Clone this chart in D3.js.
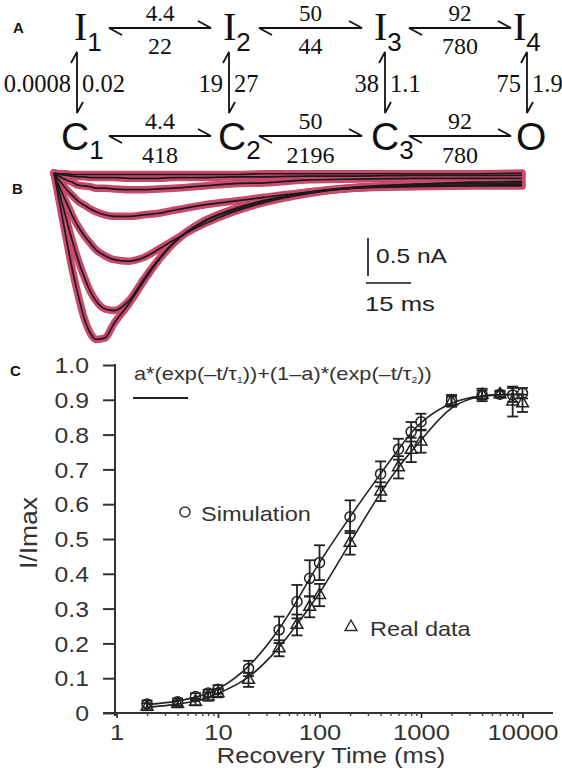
<!DOCTYPE html>
<html><head><meta charset="utf-8">
<script src="https://cdn.jsdelivr.net/npm/d3@7"></script>
<style>body{margin:0;background:#fff} svg{display:block}</style>
</head><body><svg id="fig" width="562" height="770"></svg>
<script>
// ---------- Panel A data (kinetic scheme) ----------
const topStates = ["I","I","I","I"];
const topSubs = ["1","2","3","4"];
const bottomStates = ["C","C","C","O"];
const bottomSubs = ["1","2","3",""];
const topForward = ["4.4","50","92"];
const topBackward = ["22","44","780"];
const bottomForward = ["4.4","50","92"];
const bottomBackward = ["418","2196","780"];
const vertLeft = ["0.0008","19","38","75"];
const vertRight = ["0.02","27","1.1","1.9"];

// ---------- Panel B data (current traces, ms / nA) ----------
const traceTime = [0,2,4,6,8,10,12,14,17,20,25,30,35,40,50,60,70,85,100,120,140,156];
const traceA = [0,-0.42,-0.84,-1.25,-1.60,-1.90,-2.10,-2.19,-2.17,-1.98,-1.72,-1.42,-1.14,-0.92,-0.64,-0.49,-0.37,-0.26,-0.20,-0.18,-0.17,-0.17];
const traceB = [0,-0.29,-0.59,-0.88,-1.14,-1.36,-1.55,-1.68,-1.79,-1.81,-1.68,-1.39,-1.13,-0.91,-0.63,-0.47,-0.36,-0.25,-0.19,-0.17,-0.16,-0.15];
const traceC = [0,-0.20,-0.38,-0.55,-0.70,-0.82,-0.92,-1.01,-1.09,-1.14,-1.16,-1.11,-1.00,-0.88,-0.67,-0.51,-0.39,-0.27,-0.19,-0.15,-0.14,-0.13];
const traceD = [0,-0.11,-0.21,-0.29,-0.37,-0.42,-0.47,-0.51,-0.55,-0.57,-0.57,-0.55,-0.53,-0.49,-0.42,-0.37,-0.32,-0.25,-0.20,-0.15,-0.12,-0.11];
const traceE = [0,-0.05,-0.09,-0.12,-0.16,-0.17,-0.18,-0.20,-0.20,-0.21,-0.22,-0.22,-0.21,-0.20,-0.17,-0.14,-0.13,-0.09,-0.08,-0.07,-0.07,-0.07];
const traceF = [0,-0.02,-0.03,-0.04,-0.05,-0.05,-0.06,-0.06,-0.06,-0.06,-0.07,-0.07,-0.07,-0.06,-0.06,-0.05,-0.05,-0.04,-0.04,-0.03,-0.03,-0.03];
const traceG = [0,-0.01,-0.01,-0.02,-0.02,-0.02,-0.02,-0.02,-0.02,-0.02,-0.02,-0.02,-0.02,-0.02,-0.02,-0.02,-0.01,-0.01,-0.01,-0.01,-0.01,0];
const scaleBarTime = 15;     // ms
const scaleBarCurrent = 0.5; // nA

// ---------- Panel C data (recovery from inactivation) ----------
const recoveryTime = [2,4,6,8,10,20,40,60,80,100,200,400,600,800,1000,2000,4000,6000,8000,10000];
const simMean = [0.026,0.032,0.047,0.057,0.068,0.128,0.239,0.320,0.387,0.432,0.564,0.687,0.758,0.808,0.837,0.899,0.914,0.916,0.914,0.919];
const simErr  = [0.010,0.010,0.010,0.010,0.012,0.022,0.038,0.048,0.052,0.050,0.047,0.036,0.030,0.028,0.023,0.015,0.018,0.010,0.020,0.015];
const realMean = [0.018,0.026,0.032,0.047,0.057,0.095,0.186,0.253,0.305,0.339,0.489,0.636,0.706,0.756,0.780,0.895,0.914,0.916,0.895,0.890];
const realErr  = [0.010,0.010,0.010,0.012,0.012,0.020,0.023,0.030,0.030,0.032,0.034,0.027,0.032,0.035,0.032,0.015,0.013,0.008,0.043,0.025];
const simFit  = [0.024,0.033,0.045,0.056,0.066,0.126,0.238,0.322,0.386,0.434,0.565,0.688,0.758,0.806,0.838,0.897,0.913,0.915,0.916,0.916];
const realFit = [0.016,0.025,0.033,0.045,0.056,0.095,0.186,0.254,0.305,0.342,0.489,0.636,0.707,0.752,0.783,0.890,0.912,0.914,0.915,0.915];
const yTicks = [0,0.1,0.2,0.3,0.4,0.5,0.6,0.7,0.8,0.9,1.0];
const xMajor = [1,10,100,1000,10000];

// ---------- helpers ----------
const SANS = "'Liberation Sans', Arial, Helvetica, sans-serif";
const SERIF = "'Liberation Serif', 'Times New Roman', serif";
const INK = "#222";
function stretch(sel, f){
  sel.each(function(){
    const w = this.getComputedTextLength();
    this.setAttribute("textLength", (w*f).toFixed(1));
    this.setAttribute("lengthAdjust","spacingAndGlyphs");
  });
}
const svg = d3.select("#fig");

// panel letters
[["A",13,33],["B",12,194],["C",10,376]].forEach(([t,x,y])=>{
  svg.append("text").attr("x",x).attr("y",y).text(t)
    .attr("font-family",SANS).attr("font-weight","bold").attr("font-size",15).attr("fill","#111");
});

// ================= Panel A =================
const gA = svg.append("g");
const colX = [77,229,385,527];
const iStart = [74,223,374,513];
const cStart = [61,218,371,516];
const rowTop = 28, rowBot = 136, vTop = 52, vBot = 113;
const arrowSpan = [[109,211],[259,362],[409,511]];

topStates.forEach((s,i)=>{
  const t = gA.append("text").attr("x",iStart[i]).attr("y",39.5)
    .attr("font-family",SERIF).attr("font-size",40).attr("fill","#111").text(s);
  t.append("tspan").attr("dy",11).attr("font-family",SANS).attr("font-size",26).text(topSubs[i]);
});
bottomStates.forEach((s,i)=>{
  const t = gA.append("text").attr("x",cStart[i]).attr("y",149.5)
    .attr("font-family",SANS).attr("font-size",39).attr("fill","#111").text(s);
  if(bottomSubs[i]) t.append("tspan").attr("dy",9).attr("font-size",26).text(bottomSubs[i]);
});
function hArrow(x1,x2,y){
  gA.append("path").attr("d",`M${x1+13},${y+7}L${x1},${y}L${x2},${y}L${x2-13},${y-7}`)
    .attr("fill","none").attr("stroke","#111").attr("stroke-width",1.8);
}
function vArrow(x,y1,y2){
  gA.append("path").attr("d",`M${x-6},${y1+11}L${x},${y1}L${x},${y2}L${x+6},${y2-11}`)
    .attr("fill","none").attr("stroke","#111").attr("stroke-width",1.8);
}
arrowSpan.forEach(([a,b],i)=>{
  hArrow(a,b,rowTop); hArrow(a,b,rowBot);
  const cx=(a+b)/2;
  const lab=(txt,y,fs)=>gA.append("text").attr("x",cx).attr("y",y).attr("text-anchor","middle")
    .attr("font-family",SERIF).attr("font-size",fs).attr("fill","#111").text(txt);
  lab(topForward[i],21,23); lab(topBackward[i],54,24);
  lab(bottomForward[i],129,24); lab(bottomBackward[i],163,24);
});
colX.forEach((x,i)=>{
  vArrow(x,vTop,vBot);
  gA.append("text").attr("x",x-6).attr("y",91.5).attr("text-anchor","end")
    .attr("font-family",SERIF).attr("font-size",24.5).attr("fill","#111").text(vertLeft[i]);
  gA.append("text").attr("x",x+5).attr("y",91.5)
    .attr("font-family",SERIF).attr("font-size",24.5).attr("fill","#111").text(vertRight[i]);
});

// ================= Panel B =================
const gB = svg.append("g");
const xB = d3.scaleLinear().domain([0,156]).range([54,522]);
const yB = d3.scaleLinear().domain([0,-2.5]).range([173,363]);
const traces = [traceA,traceB,traceC,traceD,traceE,traceF,traceG];
const lineB = d3.line().x((d,i)=>xB(traceTime[i])).y(d=>yB(d)).curve(d3.curveMonotoneX);
traces.forEach(tr=>{
  gB.append("path").attr("d",lineB(tr)).attr("fill","none")
    .attr("stroke","#c94a6d").attr("stroke-width",7.5).attr("stroke-linejoin","round").attr("stroke-linecap","round");
});
traces.forEach(tr=>{
  gB.append("path").attr("d",lineB(tr)).attr("fill","none")
    .attr("stroke","#1a1a1a").attr("stroke-width",1.7).attr("stroke-linejoin","round");
});
// scale bars
const sbX = 368, sbTop = 238, sbY = 283;
const vLen = yB(-scaleBarCurrent)-yB(0);
const hLen = xB(scaleBarTime)-xB(0);
gB.append("line").attr("x1",sbX).attr("x2",sbX).attr("y1",sbTop).attr("y2",sbTop+vLen)
  .attr("stroke","#111").attr("stroke-width",1.6);
gB.append("line").attr("x1",sbX-2).attr("x2",sbX-2+hLen).attr("y1",sbY).attr("y2",sbY)
  .attr("stroke","#111").attr("stroke-width",1.6);
stretch(gB.append("text").attr("x",376).attr("y",263).attr("font-family",SANS).attr("font-size",21)
  .attr("fill","#222").text(scaleBarCurrent+" nA"),1.17);
stretch(gB.append("text").attr("x",365).attr("y",311).attr("font-family",SANS).attr("font-size",21)
  .attr("fill","#222").text(scaleBarTime+" ms"),1.22);

// ================= Panel C =================
const gC = svg.append("g");
const xC = d3.scaleLog().domain([1,10000]).range([116.5,522.5]);
const yC = d3.scaleLinear().domain([0,1]).range([713,365]);

// axes lines
gC.append("line").attr("x1",103).attr("x2",553).attr("y1",713).attr("y2",713).attr("stroke","#333").attr("stroke-width",2);
gC.append("line").attr("x1",115).attr("x2",115).attr("y1",364).attr("y2",716).attr("stroke","#333").attr("stroke-width",2);

// y axis ticks + labels
const yAx = gC.append("g").attr("transform","translate(115,0)")
  .call(d3.axisLeft(yC).tickValues(yTicks).tickSize(12).tickPadding(14)
    .tickFormat(d=>d===0?"0":d3.format(".1f")(d)));
yAx.select(".domain").remove();
yAx.selectAll("line").attr("stroke","#333").attr("stroke-width",2);
yAx.selectAll("text").attr("font-family",SANS).attr("font-size",21.5).attr("fill","#333").attr("dy","0.36em");
stretch(yAx.selectAll("text"),1.15);

// x axis ticks
const minorTicks = [];
xMajor.slice(0,-1).forEach(m=>{ for(let k=2;k<=9;k++) minorTicks.push(m*k); });
const xMin = gC.append("g").attr("transform","translate(0,713)")
  .call(d3.axisBottom(xC).tickValues(minorTicks).tickSize(3).tickFormat(""));
xMin.select(".domain").remove();
xMin.selectAll("line").attr("stroke","#444").attr("stroke-width",1.4);
const xAx = gC.append("g").attr("transform","translate(0,713)")
  .call(d3.axisBottom(xC).tickValues(xMajor).tickSize(5).tickPadding(6).tickFormat(d3.format("d")));
xAx.select(".domain").remove();
xAx.selectAll("line").attr("stroke","#333").attr("stroke-width",1.8);
xAx.selectAll("text").attr("font-family",SANS).attr("font-size",22).attr("fill","#333");
stretch(xAx.selectAll("text"),1.16);

// axis titles
stretch(gC.append("text").attr("x",331).attr("y",763).attr("text-anchor","middle")
  .attr("font-family",SANS).attr("font-size",22).attr("fill","#333").text("Recovery Time (ms)"),1.16);
stretch(gC.append("text").attr("transform","translate(37,533) rotate(-90)").attr("text-anchor","middle")
  .attr("font-family",SANS).attr("font-size",23).attr("fill","#333").text("I/Imax"),1.15);

// fit curves
const fitLine = d3.line().x((d,i)=>xC(recoveryTime[i])).y(d=>yC(d)).curve(d3.curveBasis);
[simFit,realFit].forEach(f=>{
  gC.append("path").attr("d",fitLine(f)).attr("fill","none").attr("stroke",INK).attr("stroke-width",1.6);
});

// error bars + markers
function series(mean, err, shape){
  const g = gC.append("g");
  recoveryTime.forEach((t,i)=>{
    const x = xC(t), y0 = yC(mean[i]-err[i]), y1 = yC(mean[i]+err[i]);
    g.append("line").attr("x1",x).attr("x2",x).attr("y1",y0).attr("y2",y1).attr("stroke",INK).attr("stroke-width",1.8);
    [y0,y1].forEach(yy=>g.append("line").attr("x1",x-5.5).attr("x2",x+5.5).attr("y1",yy).attr("y2",yy).attr("stroke",INK).attr("stroke-width",1.8));
    g.append("path").attr("transform",`translate(${x},${yC(mean[i])})`)
      .attr("d",d3.symbol(shape, shape===d3.symbolCircle?80:60)())
      .attr("fill","none").attr("stroke",INK).attr("stroke-width",1.5);
  });
}
series(realMean, realErr, d3.symbolTriangle);
series(simMean, simErr, d3.symbolCircle);

// legends
gC.append("path").attr("transform","translate(185,512)").attr("d",d3.symbol(d3.symbolCircle,80)())
  .attr("fill","none").attr("stroke","#333").attr("stroke-width",1.5);
stretch(gC.append("text").attr("x",201).attr("y",521).attr("font-family",SANS).attr("font-size",21)
  .attr("fill","#333").text("Simulation"),1.12);
gC.append("path").attr("transform","translate(351,627)").attr("d",d3.symbol(d3.symbolTriangle,60)())
  .attr("fill","none").attr("stroke","#333").attr("stroke-width",1.5);
stretch(gC.append("text").attr("x",370).attr("y",636).attr("font-family",SANS).attr("font-size",21)
  .attr("fill","#333").text("Real data"),1.12);

// formula legend
const ft = gC.append("text").attr("x",134).attr("y",380).attr("font-family",SANS).attr("font-size",19).attr("fill","#333");
ft.append("tspan").text("a*(exp(\u2013t/\u03c4");
ft.append("tspan").attr("font-size",9).attr("dy",3).text("1");
ft.append("tspan").attr("dy",-3).text("))+(1\u2013a)*(exp(\u2013t/\u03c4");
ft.append("tspan").attr("font-size",9).attr("dy",3).text("2");
ft.append("tspan").attr("dy",-3).text("))");
stretch(ft,1.145);
gC.append("line").attr("x1",133).attr("x2",188).attr("y1",398).attr("y2",398).attr("stroke","#222").attr("stroke-width",2);
</script></body></html>
